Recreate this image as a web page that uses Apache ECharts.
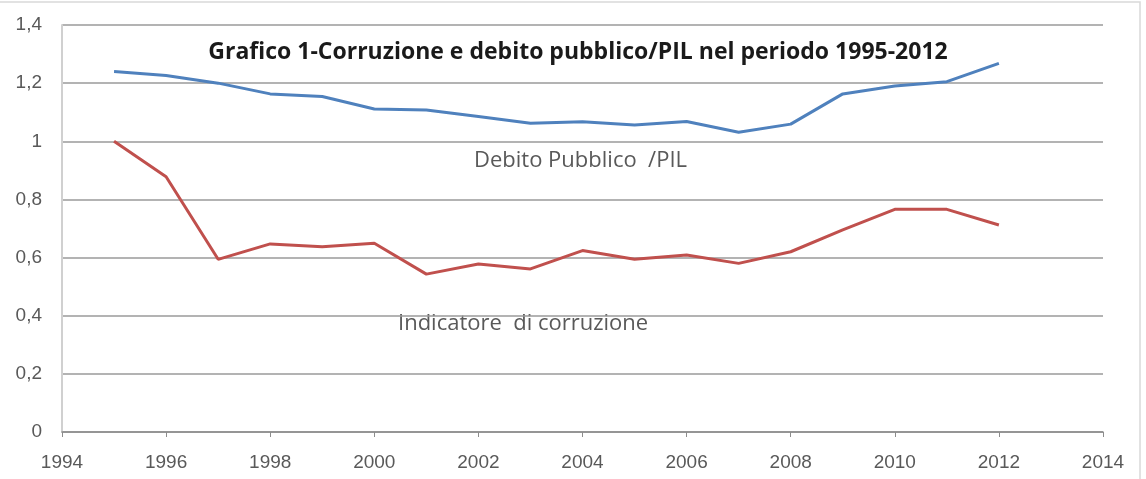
<!DOCTYPE html>
<html>
<head>
<meta charset="utf-8">
<script src="https://cdn.jsdelivr.net/npm/echarts@6/dist/echarts.min.js"></script>
<style>
html,body{margin:0;padding:0;background:#fff;}
#c{width:1146px;height:479px;}
</style>
</head>
<body>
<div id="c"></div>
<script>
const years = [1995,1996,1997,1998,1999,2000,2001,2002,2003,2004,2005,2006,2007,2008,2009,2010,2011,2012];
const debitoPIL = [1.240,1.226,1.200,1.163,1.154,1.111,1.108,1.085,1.062,1.067,1.056,1.068,1.031,1.059,1.163,1.190,1.205,1.268];
const corruzione = [1.000,0.878,0.594,0.647,0.637,0.649,0.543,0.578,0.561,0.624,0.594,0.609,0.580,0.620,0.695,0.766,0.766,0.712];
const titleText = 'Grafico 1-Corruzione e debito pubblico/PIL nel periodo 1995-2012';
const labelDebito = 'Debito Pubblico  /PIL';
const labelCorr = 'Indicatore  di corruzione';

const chart = echarts.init(document.getElementById('c'));
const txt = '#595959';
chart.setOption({
  animation: false,
  backgroundColor: '#fff',
  title: {
    text: titleText,
    left: 573, top: 36, textAlign: 'center',
    textStyle: {fontFamily: 'Open Sans', fontWeight: 'bold', fontSize: 23, color: '#1a1a1a'}
  },
  grid: {left: 62, right: 43, top: 25, bottom: 47},
  xAxis: {
    type: 'value', min: 1994, max: 2014, interval: 2,
    axisLine: {show: true, lineStyle: {color: '#8c8c8c', width: 1.5}},
    axisTick: {show: true, length: 5, inside: false, lineStyle: {color: '#8c8c8c'}},
    splitLine: {show: false},
    axisLabel: {color: txt, fontFamily: 'Liberation Sans', fontSize: 19, margin: 21,
      formatter: v => String(v)}
  },
  yAxis: {
    type: 'value', min: 0, max: 1.4, interval: 0.2,
    axisLine: {show: true, lineStyle: {color: '#d0d0d0', width: 2}},
    axisTick: {show: false},
    splitLine: {show: true, lineStyle: {color: '#9a9a9a', width: 1.5}},
    axisLabel: {color: txt, fontFamily: 'Liberation Sans', fontSize: 19, margin: 20,
      formatter: v => String(Math.round(v*10)/10).replace('.', ',')}
  },
  series: [
    {type: 'line', name: 'Debito Pubblico /PIL', data: years.map((y,i)=>[y, debitoPIL[i]]),
      showSymbol: false, lineStyle: {color: '#4f81bd', width: 3}, itemStyle: {color: '#4f81bd'}},
    {type: 'line', name: 'Indicatore di corruzione', data: years.map((y,i)=>[y, corruzione[i]]),
      showSymbol: false, lineStyle: {color: '#c0504d', width: 3}, itemStyle: {color: '#c0504d'}}
  ],
  graphic: [
    {type: 'rect', shape: {x: -5, y: 2, width: 1145, height: 490}, style: {fill: 'none', stroke: '#d9d9d9', lineWidth: 1.5}, silent: true},
    {type: 'text', left: 474, top: 150, style: {text: labelDebito, fill: txt, font: '22px "Open Sans"'}},
    {type: 'text', left: 398, top: 313, style: {text: labelCorr, fill: txt, font: '22px "Open Sans"'}}
  ]
});
</script>
</body>
</html>
